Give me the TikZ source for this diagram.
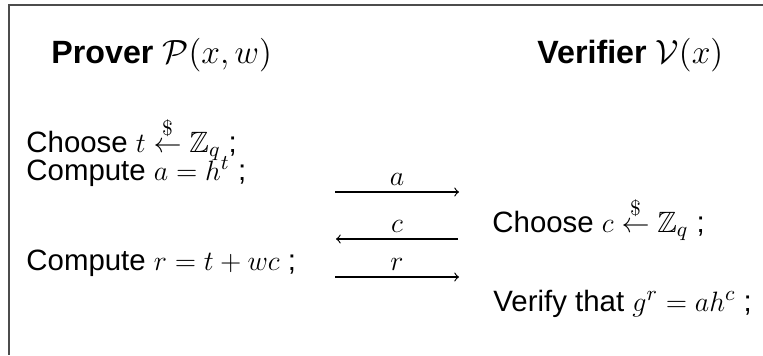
\documentclass[tikz,border=0pt]{standalone}
\usepackage{amssymb}
\usepackage{fontspec}
\setsansfont{Liberation Sans}
\begin{document}
\begin{tikzpicture}[x=0.4286pt,y=-0.4286pt,
  body/.style={anchor=base west, inner sep=0pt, font=\sffamily\fontsize{12.6}{15}\selectfont},
  ttl/.style={anchor=base west, inner sep=0pt, font=\sffamily\bfseries\fontsize{13.8}{17}\selectfont},
  msg/.style={line width=0.5pt, ->},
  lbl/.style={midway, anchor=south, inner sep=0pt, yshift=2.4pt, font=\fontsize{12.6}{15}\selectfont},
  frame/.style={draw=black!70, line width=0.55pt}]
\useasboundingbox (0,0) rectangle (763,355);
\draw[frame] (763,5) -- (9,5) -- (9,355);
\node[ttl] (prover) at (51,63) {Prover $\mathcal{P}(x,w)$};
\node[ttl] (verifier) at (537,63) {Verifier $\mathcal{V}(x)$};
\node[body] (ch1) at (26,152) {Choose $t \stackrel{\$}{\leftarrow} \mathbb{Z}_q$ ;};
\node[body] (cp1) at (26,180) {Compute $a = h^t$ ;};
\node[body] (cp2) at (26,270) {Compute $r = t + wc$ ;};
\node[body] (ch2) at (492,232) {Choose $c \stackrel{\$}{\leftarrow} \mathbb{Z}_q$ ;};
\node[body] (vf) at (493,311) {Verify that $g^r = ah^c$ ;};
\coordinate (a1) at (335,192); \coordinate (a2) at (459,192);
\coordinate (c1) at (458,239); \coordinate (c2) at (336,239);
\coordinate (r1) at (335,277); \coordinate (r2) at (459,277);
\draw[msg] (a1) -- node[lbl] {$a$} (a2);
\draw[msg] (c1) -- node[lbl] {$c$} (c2);
\draw[msg] (r1) -- node[lbl] {$r$} (r2);
\end{tikzpicture}
\end{document}
